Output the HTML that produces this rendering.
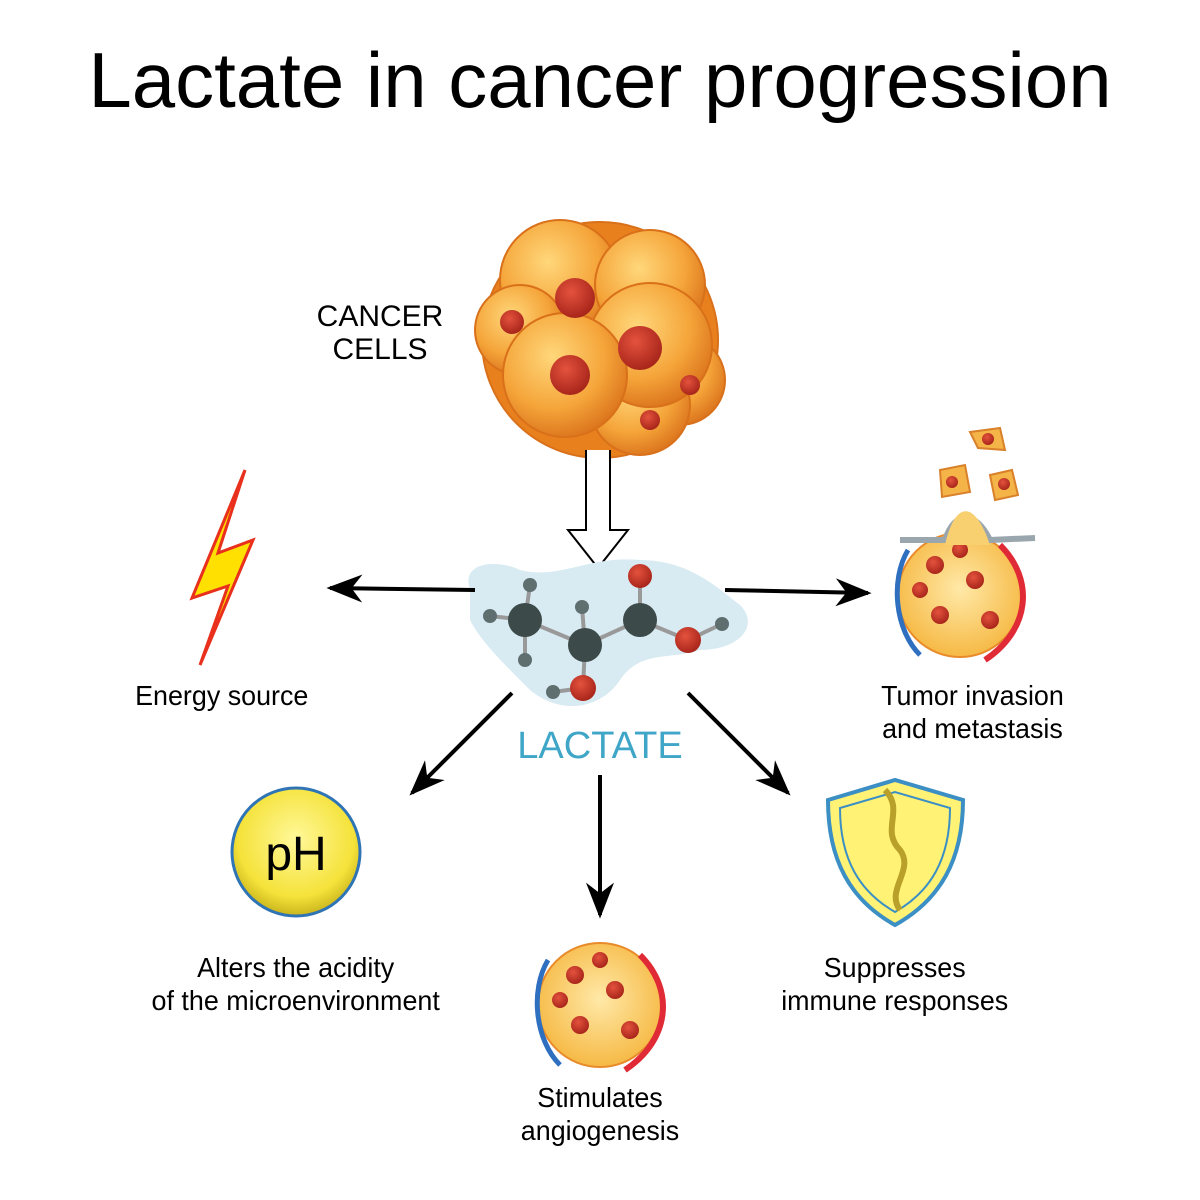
<!DOCTYPE html>
<html><head><meta charset="utf-8"><style>body{margin:0;background:#fff}svg{display:block}</style></head><body>
<svg width="1200" height="1200" viewBox="0 0 1200 1200" xmlns="http://www.w3.org/2000/svg" font-family="Liberation Sans, sans-serif">
<defs>
<radialGradient id="cell" cx="40%" cy="35%" r="70%"><stop offset="0" stop-color="#ffd77a"/><stop offset="0.6" stop-color="#f5a53a"/><stop offset="1" stop-color="#d9701a"/></radialGradient>
<radialGradient id="nuc" cx="40%" cy="35%" r="65%"><stop offset="0" stop-color="#e4523d"/><stop offset="1" stop-color="#a9261b"/></radialGradient>
<radialGradient id="ph" cx="50%" cy="40%" r="60%"><stop offset="0" stop-color="#fff89a"/><stop offset="0.75" stop-color="#f5e23a"/><stop offset="1" stop-color="#c9b51c"/></radialGradient>
<radialGradient id="tis" cx="50%" cy="45%" r="60%"><stop offset="0" stop-color="#ffe9a8"/><stop offset="1" stop-color="#f5b53c"/></radialGradient>
<marker id="ah" markerWidth="36" markerHeight="28" refX="9" refY="5" orient="auto" markerUnits="userSpaceOnUse" viewBox="0 0 10 10" preserveAspectRatio="none"><path d="M0,0 L10,5 L0,10 L3,5z" fill="#000"/></marker>
</defs>
<text x="600" y="107" font-size="78" text-anchor="middle">Lactate in cancer progression</text>
<text x="380" y="326" font-size="30" text-anchor="middle">CANCER</text>
<text x="380" y="359" font-size="30" text-anchor="middle">CELLS</text>
<g stroke="#d9701a" stroke-width="2">
<circle cx="600" cy="340" r="118" fill="#e8801e"/>
<circle cx="560" cy="280" r="60" fill="url(#cell)"/>
<circle cx="650" cy="285" r="55" fill="url(#cell)"/>
<circle cx="520" cy="330" r="45" fill="url(#cell)"/>
<circle cx="680" cy="380" r="45" fill="url(#cell)"/>
<circle cx="640" cy="405" r="50" fill="url(#cell)"/>
<circle cx="650" cy="345" r="62" fill="url(#cell)"/>
<circle cx="565" cy="375" r="62" fill="url(#cell)"/>
</g>
<g fill="url(#nuc)"><circle cx="575" cy="298" r="20"/><circle cx="640" cy="348" r="22"/><circle cx="570" cy="375" r="20"/><circle cx="512" cy="322" r="12"/><circle cx="690" cy="385" r="10"/><circle cx="650" cy="420" r="10"/></g>
<path d="M586,450 L586,530 L568,530 L598,568 L628,530 L610,530 L610,450" fill="#fff" stroke="#000" stroke-width="2"/>
<path d="M470,590 C460,560 500,560 520,570 C560,580 590,555 640,560 C690,560 720,590 740,605 C760,625 740,650 700,650 C670,660 640,650 620,680 C600,710 560,715 530,690 C500,660 480,640 470,620z" fill="#d8eaf2"/>
<g stroke="#999" stroke-width="4"><line x1="490" y1="616" x2="525" y2="620"/><line x1="525" y1="620" x2="525" y2="660"/><line x1="525" y1="620" x2="530" y2="585"/><line x1="525" y1="620" x2="585" y2="645"/><line x1="585" y1="645" x2="582" y2="607"/><line x1="585" y1="645" x2="583" y2="688"/><line x1="585" y1="645" x2="640" y2="620"/><line x1="640" y1="620" x2="640" y2="576"/><line x1="640" y1="620" x2="688" y2="640"/><line x1="688" y1="640" x2="722" y2="624"/><line x1="583" y1="688" x2="553" y2="692"/></g>
<g fill="#3d4a4a"><circle cx="525" cy="620" r="17"/><circle cx="585" cy="645" r="17"/><circle cx="640" cy="620" r="17"/></g>
<g fill="#5f6e6e"><circle cx="490" cy="616" r="7"/><circle cx="525" cy="660" r="7"/><circle cx="530" cy="585" r="7"/><circle cx="582" cy="607" r="7"/><circle cx="722" cy="624" r="7"/><circle cx="553" cy="692" r="7"/></g>
<g fill="url(#nuc)"><circle cx="640" cy="576" r="12"/><circle cx="688" cy="640" r="13"/><circle cx="583" cy="688" r="13"/></g>
<text x="600" y="758" font-size="38" fill="#3fa6c8" text-anchor="middle">LACTATE</text>
<g stroke="#000" stroke-width="4" marker-end="url(#ah)">
<line x1="475" y1="590" x2="330" y2="588"/><line x1="725" y1="590" x2="868" y2="593"/>
<line x1="512" y1="693" x2="412" y2="793"/><line x1="600" y1="775" x2="600" y2="915"/><line x1="688" y1="693" x2="788" y2="793"/>
</g>
<path d="M245,470 L192,598 L228,586 L200,665 L253,540 L218,553z" fill="#ffe000" stroke="#e8301c" stroke-width="3"/>
<g font-size="28" text-anchor="middle" transform="scale(0.96,1)">
<text x="231" y="705">Energy source</text>
<text x="1013" y="705">Tumor invasion</text><text x="1013" y="738">and metastasis</text>
<text x="308" y="977">Alters the acidity</text><text x="308" y="1010">of the microenvironment</text>
<text x="625" y="1107">Stimulates</text><text x="625" y="1140">angiogenesis</text>
<text x="932" y="977">Suppresses</text><text x="932" y="1010">immune responses</text>
</g>
<circle cx="296" cy="852" r="64" fill="url(#ph)" stroke="#2f74b5" stroke-width="3"/>
<text x="296" y="870" font-size="48" text-anchor="middle">pH</text>
<path d="M828,800 L895,780 L963,800 C963,860 940,900 895,925 C850,900 828,860 828,800z" fill="#fff275" stroke="#3b8fc4" stroke-width="4"/>
<path d="M840,808 L895,792 L950,808 C950,860 930,892 895,912 C860,892 840,860 840,808z" fill="none" stroke="#3b8fc4" stroke-width="2"/>
<path d="M885,790 C905,810 880,830 900,850 C915,870 885,890 900,910" stroke="#b8a02a" stroke-width="6" fill="none"/>
<g id="t1">
<circle cx="600" cy="1005" r="62" fill="url(#tis)" stroke="#e98b2a" stroke-width="2"/>
<g fill="url(#nuc)"><circle cx="575" cy="975" r="9"/><circle cx="615" cy="990" r="9"/><circle cx="580" cy="1025" r="9"/><circle cx="630" cy="1030" r="9"/><circle cx="600" cy="960" r="8"/><circle cx="560" cy="1000" r="8"/></g>
<path d="M548,960 C530,990 535,1040 560,1065" stroke="#2f6fc0" stroke-width="5" fill="none"/>
<path d="M640,955 C675,990 670,1040 625,1070" stroke="#e02a35" stroke-width="6" fill="none"/>
</g>
<use href="#t1" transform="translate(360,-410)"/>
<path d="M900,540 L945,540 C955,510 975,510 990,540 L1035,538" stroke="#9aa6ae" stroke-width="6" fill="none"/>
<path d="M945,545 C955,500 975,500 990,545z" fill="#f8d070"/>
<g fill="#f5b448" stroke="#d9802a" stroke-width="2"><path d="M970,432 L1000,428 L1005,450 L978,448z"/><path d="M940,470 L965,465 L970,492 L942,497z"/><path d="M990,475 L1012,470 L1018,495 L995,500z"/></g>
<g fill="url(#nuc)"><circle cx="988" cy="439" r="6"/><circle cx="952" cy="482" r="6"/><circle cx="1004" cy="484" r="6"/></g>
</svg>
</body></html>
